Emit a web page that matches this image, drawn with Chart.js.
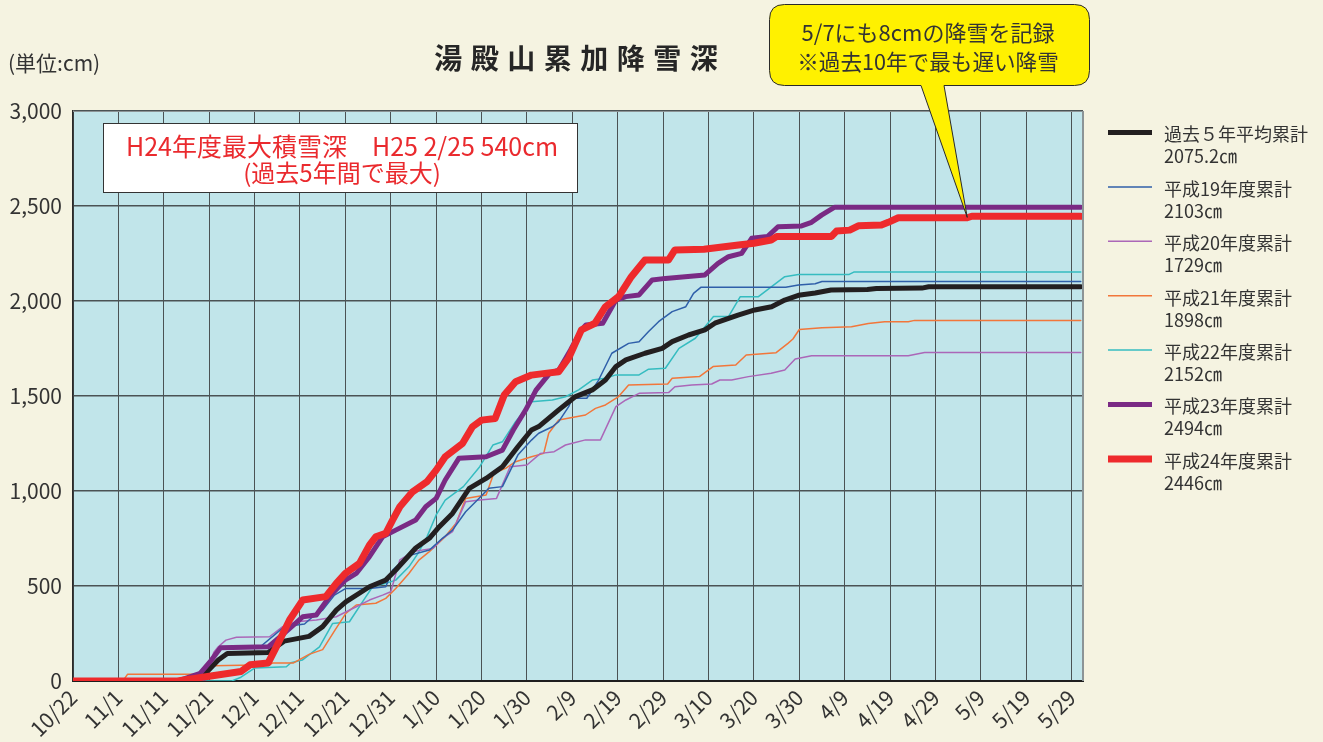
<!DOCTYPE html>
<html lang="ja">
<head>
<meta charset="utf-8">
<title>湯殿山累加降雪深</title>
<script src="https://cdn.jsdelivr.net/npm/chart.js@4.4.1/dist/chart.umd.min.js"></script>
<style>
  html, body { margin: 0; padding: 0; background: #f5f3e1; }
  #wrap { width: 1323px; height: 742px; }
</style>
</head>
<body>
<div id="wrap"><canvas id="snow" width="1323" height="742"></canvas></div>
<script>
// x is days counted from 10/22, one tick label every 10 days
const dateLabels = ['10/22', '11/1', '11/11', '11/21', '12/1', '12/11', '12/21', '12/31', '1/10', '1/20',
  '1/30', '2/9', '2/19', '2/29', '3/10', '3/20', '3/30', '4/9', '4/19', '4/29', '5/9', '5/19', '5/29'];

const seriesNames = ['過去５年平均累計', '平成19年度累計', '平成20年度累計', '平成21年度累計',
  '平成22年度累計', '平成23年度累計', '平成24年度累計'];
const seriesTotals = ['2075.2㎝', '2103㎝', '1729㎝', '1898㎝', '2152㎝', '2494㎝', '2446㎝'];

// [day, cumulative cm]
const avg5 = [[0,0],[23,0],[28,20],[30,60],[32,110],[34,145],[43,150],[46.5,210],[52,235],[55,286],[58,373],[60.1,417],
  [65.3,496],[68.9,531],[71.1,584],[75.5,700],[78.5,751],[80.7,812],[83.6,882],[87.3,1014],[91,1066],[94.6,1128],
  [98,1233],[101,1321],[102.6,1339],[107,1427],[110.7,1497],[114.4,1532],[117.3,1584],[119.6,1655],[121.8,1690],
  [126,1725],[129.8,1751],[132,1786],[135.6,1821],[139.2,1848],[141.4,1883],[146.5,1926],[150.2,1953],[153.9,1970],
  [156.8,2005],[159.8,2030],[163.5,2042],[167,2058],[175,2061],[177,2066],[187,2068],[188.5,2075],[222,2075]];

const h19 = [[0,0],[29,0],[30.5,100],[32.3,175],[41,175],[46.5,285],[51,300],[52.8,338],[55,373],[57.6,452],
  [60.1,487],[65.3,487],[68.9,496],[70.4,584],[74,660],[78.5,689],[81.4,751],[83.6,794],[86.5,891],[89.8,970],
  [91.6,1014],[94.6,1023],[98,1189],[101,1268],[102.6,1304],[105.6,1338],[107,1365],[109.2,1444],[110,1488],
  [113.2,1488],[115.8,1584],[118.7,1725],[122.4,1777],[124.7,1786],[126.8,1839],[129,1891],[132,1944],[135,1970],
  [136.7,2040],[138.3,2072],[157,2072],[159.8,2084],[163.5,2091],[165,2103],[222,2103]];

const h20 = [[0,0],[29,0],[31,150],[32,180],[33.7,215],[36,230],[43.3,233],[46.2,286],[49.2,312],[53.6,321],
  [58,338],[62.4,391],[65.3,426],[68.2,452],[70,470],[72,637],[75,681],[79.3,698],[81.4,751],[83.6,786],
  [86.5,944],[89.6,952],[93.3,961],[96.3,1128],[100,1137],[103,1198],[106,1207],[108.5,1242],[110,1251],
  [112.9,1269],[116.2,1269],[119.6,1444],[121.8,1479],[124.7,1514],[131.2,1518],[132.6,1549],[136.3,1558],
  [140.7,1563],[142.5,1584],[145.1,1584],[148.8,1602],[153.8,1620],[156.8,1637],[159.1,1695],[162.7,1712],
  [184,1712],[187.6,1729],[222,1729]];

const h21 = [[0,0],[11,0],[12,35],[29,35],[31,80],[43,85],[44,95],[48.6,95],[52,140],[55,165],[57.5,260],
  [60.1,356],[62.4,400],[66.7,409],[68.9,435],[71.1,487],[74,566],[76.2,636],[78.5,681],[82,760],[84.4,830],
  [86.5,961],[91,979],[92.7,1093],[95.3,1119],[97.5,1154],[101,1180],[103.7,1198],[104.8,1304],[107,1374],
  [112.9,1400],[115.1,1435],[117.3,1453],[120.2,1497],[122.4,1558],[131,1563],[132,1593],[138,1602],[141,1655],
  [146,1663],[148.3,1716],[154.9,1728],[157.5,1777],[158.6,1800],[160,1850],[165,1859],[171.5,1865],
  [175.2,1882],[178.8,1891],[184,1891],[185.4,1898],[222,1898]];

const h22 = [[0,0],[35,0],[37,20],[40,68],[47,75],[48,96],[50.5,110],[54.3,180],[57.2,303],[60.9,312],
  [64.5,443],[66,496],[68.9,514],[71.1,531],[74,601],[76,672],[78,760],[80,874],[82,952],[86,1023],[89.6,1128],
  [92.5,1242],[94.6,1259],[97.5,1365],[101,1470],[105.6,1479],[108.5,1496],[111.4,1532],[114.4,1584],
  [117.3,1593],[119.6,1611],[124.7,1611],[126.8,1641],[130.5,1646],[133.5,1751],[137.1,1804],[141.1,1918],
  [144.4,1918],[147,2023],[151,2023],[153.9,2076],[156.8,2128],[159.8,2140],[171,2140],[172,2152],[222,2152]];

const h23 = [[0,0],[23,0],[28,40],[30.5,110],[32.5,175],[43,180],[46.5,250],[50.6,338],[53.6,347],[56.5,444],
  [60,531],[62.4,566],[65.3,654],[68.2,759],[71.1,794],[75.5,847],[77.7,917],[80,961],[82,1058],[85,1172],
  [91,1180],[94.6,1215],[97,1321],[99.7,1426],[102,1531],[105,1619],[107,1636],[109.6,1742],[112,1848],
  [113,1874],[116.7,1883],[119.6,2005],[121.8,2023],[124.7,2032],[127.6,2111],[130.5,2119],[139.2,2137],
  [142.1,2198],[144.4,2233],[147.3,2251],[149.5,2330],[153,2339],[155.3,2391],[160.5,2395],[162.7,2414],
  [164.9,2452],[167.8,2494],[222,2494]];

const h24 = [[0,0],[23,0],[30,25],[37,50],[39,85],[43,95],[44.8,180],[47.7,321],[50.6,426],[55.7,444],
  [58,514],[60,566],[63.1,619],[65.3,715],[66.7,759],[68.9,777],[70.4,847],[72,917],[74.8,996],[78,1049],
  [80,1110],[82,1180],[85.8,1250],[88,1338],[90,1373],[93,1382],[95,1505],[97.5,1575],[101,1610],[104,1619],
  [107,1628],[109.2,1700],[112,1848],[115,1883],[117.3,1970],[120.2,2023],[123,2128],[126,2216],[131.2,2216],
  [132.6,2269],[139,2272],[146.6,2295],[150,2304],[153.8,2321],[155,2339],[167.1,2340],[168.2,2368],
  [171.1,2373],[173,2396],[178.1,2400],[179.6,2414],[181.8,2438],[197,2438],[198,2446],[222,2446]];

const JP = '"Noto Sans CJK JP", "Noto Sans", sans-serif';
const TEXT = '#333333';

function toXY(rows) {
  return rows.map(([d, v]) => ({ x: d, y: v }));
}

function line(i, rows, color, width, order) {
  return {
    label: seriesNames[i],
    data: toXY(rows),
    borderColor: color,
    backgroundColor: color,
    borderWidth: width,
    pointRadius: 0,
    tension: 0,
    borderJoinStyle: 'round',
    borderCapStyle: 'round',
    order: order,
  };
}

// put text on one line, shrinking it if it would get wider than maxW
function fitText(ctx, text, x, y, size, maxW, weight) {
  ctx.font = (weight || '') + ' ' + size + 'px ' + JP;
  const w = ctx.measureText(text).width;
  if (w > maxW) {
    ctx.font = (weight || '') + ' ' + (size * maxW / w).toFixed(1) + 'px ' + JP;
  }
  ctx.fillText(text, x, y);
}

const backdrop = {
  id: 'backdrop',
  beforeDraw(chart) {
    const { ctx, chartArea: a } = chart;
    ctx.save();
    ctx.fillStyle = '#c1e5ea';
    ctx.fillRect(a.left, a.top, a.right - a.left, a.bottom - a.top);
    ctx.restore();
  },
  afterDatasetsDraw(chart) {
    const { ctx, chartArea: a } = chart;
    ctx.save();
    ctx.strokeStyle = '#8c9496';
    ctx.lineWidth = 1;
    ctx.beginPath();
    ctx.moveTo(a.left, a.top + 0.5);
    ctx.lineTo(a.right, a.top + 0.5);
    ctx.stroke();
    ctx.lineWidth = 2;
    ctx.beginPath();
    ctx.moveTo(a.right, a.top);
    ctx.lineTo(a.right, a.bottom);
    ctx.stroke();
    ctx.restore();
  },
};

const notes = {
  id: 'notes',
  afterDraw(chart) {
    const { ctx, scales } = chart;
    ctx.save();

    // title with wide letter spacing
    const title = '湯殿山累加降雪深';
    ctx.font = 'bold 28px ' + JP;
    ctx.fillStyle = '#262626';
    ctx.textBaseline = 'middle';
    ctx.textAlign = 'left';
    const gap = 8.5;
    let tw = 0;
    for (const ch of title) tw += ctx.measureText(ch).width;
    tw += gap * (title.length - 1);
    let tx = 576 - tw / 2;
    for (const ch of title) {
      ctx.fillText(ch, tx, 58);
      tx += ctx.measureText(ch).width + gap;
    }

    ctx.fillStyle = TEXT;
    fitText(ctx, '(単位:cm)', 8, 63, 21, 98);

    // max snow depth box
    ctx.fillStyle = '#ffffff';
    ctx.fillRect(103, 123, 474, 69);
    ctx.strokeStyle = '#333';
    ctx.lineWidth = 1;
    ctx.strokeRect(103.5, 123.5, 474, 69);
    ctx.fillStyle = '#ea2a2e';
    ctx.textAlign = 'center';
    fitText(ctx, 'H24年度最大積雪深　H25 2/25 540cm', 342, 146, 25, 442);
    fitText(ctx, '(過去5年間で最大)', 342, 173, 24, 442);

    // yellow callout pointing at the 5/7 step
    const tipX = scales.x.getPixelForValue(197);
    const tipY = scales.y.getPixelForValue(2440);
    const bx = 769.5, by = 4.5, bw = 320, bh = 81, r = 15;
    ctx.beginPath();
    ctx.moveTo(bx + r, by);
    ctx.lineTo(bx + bw - r, by);
    ctx.quadraticCurveTo(bx + bw, by, bx + bw, by + r);
    ctx.lineTo(bx + bw, by + bh - r);
    ctx.quadraticCurveTo(bx + bw, by + bh, bx + bw - r, by + bh);
    ctx.lineTo(944, by + bh);
    ctx.lineTo(tipX, tipY);
    ctx.lineTo(921, by + bh);
    ctx.lineTo(bx + r, by + bh);
    ctx.quadraticCurveTo(bx, by + bh, bx, by + bh - r);
    ctx.lineTo(bx, by + r);
    ctx.quadraticCurveTo(bx, by, bx + r, by);
    ctx.closePath();
    ctx.fillStyle = '#fff100';
    ctx.fill();
    ctx.strokeStyle = '#2a2a2a';
    ctx.lineWidth = 1;
    ctx.stroke();
    ctx.fillStyle = TEXT;
    fitText(ctx, '5/7にも8cmの降雪を記録', 928, 33, 22, 262);
    fitText(ctx, '※過去10年で最も遅い降雪', 928, 62, 22, 262);

    // legend, two lines per entry
    ctx.textAlign = 'left';
    chart.data.datasets.forEach((ds, i) => {
      const y = 132.5 + i * 54.4;
      ctx.strokeStyle = ds.borderColor;
      ctx.lineWidth = ds.borderWidth;
      ctx.lineCap = 'butt';
      ctx.beginPath();
      ctx.moveTo(1108, y);
      ctx.lineTo(1152, y);
      ctx.stroke();
      ctx.fillStyle = TEXT;
      fitText(ctx, seriesNames[i], 1164, y + 2, 18, 150);
      fitText(ctx, seriesTotals[i], 1164, y + 24, 18, 150);
    });

    ctx.restore();
  },
};

new Chart(document.getElementById('snow'), {
  type: 'line',
  data: {
    datasets: [
      line(0, avg5, '#231f20', 5, 2),
      line(1, h19, '#2f5fa9', 1.5, 3),
      line(2, h20, '#ab67b8', 1.5, 4),
      line(3, h21, '#f2763a', 1.5, 5),
      line(4, h22, '#35bcc0', 1.5, 6),
      line(5, h23, '#7a2a84', 5, 1),
      line(6, h24, '#ee2a2c', 7, 0),
    ],
  },
  options: {
    responsive: false,
    animation: false,
    events: [],
    layout: { padding: { left: 0, top: 111, right: 240, bottom: 0 } },
    plugins: {
      legend: { display: false },
      title: { display: false },
      tooltip: { enabled: false },
    },
    scales: {
      x: {
        type: 'linear',
        min: 0,
        max: 222.5,
        afterFit: (s) => { s.height = 61; },
        grid: { color: '#4b5254', lineWidth: 1, drawTicks: false },
        border: { color: '#1e1e1e', width: 2 },
        ticks: {
          stepSize: 10,
          includeBounds: false,
          autoSkip: false,
          minRotation: 45,
          maxRotation: 45,
          padding: 4,
          color: TEXT,
          font: { family: JP, size: 21 },
          callback: (v) => (v % 10 === 0 ? dateLabels[v / 10] : ''),
        },
      },
      y: {
        min: 0,
        max: 3000,
        afterFit: (s) => { s.width = 73; },
        grid: { color: '#4b5254', lineWidth: 1.5, drawTicks: false },
        border: { color: '#2a2a2a', width: 1.5 },
        ticks: {
          stepSize: 500,
          padding: 11,
          color: TEXT,
          font: { family: JP, size: 21 },
        },
      },
    },
  },
  plugins: [backdrop, notes],
});
</script>
</body>
</html>
